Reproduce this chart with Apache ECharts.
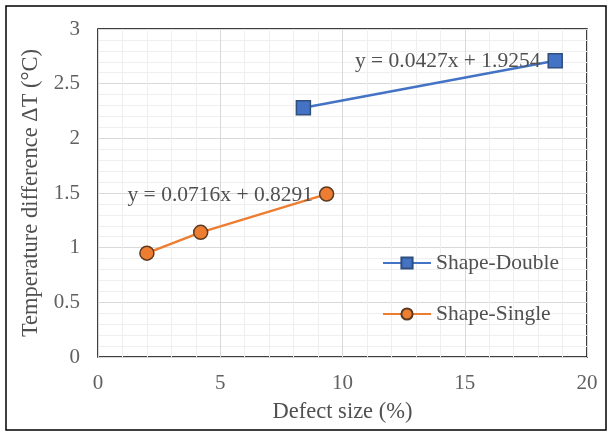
<!DOCTYPE html>
<html>
<head>
<meta charset="utf-8">
<script src="https://cdn.jsdelivr.net/npm/echarts@6/dist/echarts.min.js"></script>
<style>
  html, body { margin: 0; padding: 0; background: #fff; }
  #chart { width: 612px; height: 437px; }
</style>
</head>
<body>
<div id="chart"></div>
<script>
var doubleData = [[8.4, 2.28], [18.7, 2.71]];
var singleData = [[2.0, 0.95], [4.2, 1.14], [9.35, 1.49]];
var doubleEq = 'y = 0.0427x + 1.9254';
var singleEq = 'y = 0.0716x + 0.8291';
var doubleEqAt = [14.3, 2.70];
var singleEqAt = [5.0, 1.48];

var font = '"Liberation Serif", "DejaVu Serif", serif';
var chart = echarts.init(document.getElementById('chart'));
chart.setOption({
    animation: false,
    backgroundColor: '#fff',
    textStyle: { fontFamily: font },
    graphic: [{
        type: 'rect',
        shape: { x: 6, y: 6, width: 600, height: 424 },
        style: { fill: 'none', stroke: '#000', lineWidth: 1.5 }
    }],
    grid: {
        left: 98, right: 25, top: 29, bottom: 80,
        show: true, borderColor: '#000', borderWidth: 1.5
    },
    legend: {
        orient: 'vertical',
        left: 377, top: 247,
        itemWidth: 48, itemHeight: 14, itemGap: 29,
        textStyle: { fontFamily: font, fontSize: 21.5, color: '#505050' },
        data: ['Shape-Double', 'Shape-Single']
    },
    xAxis: {
        type: 'value', min: 0, max: 20, interval: 5,
        name: 'Defect size (%)', nameLocation: 'middle', nameGap: 44,
        nameTextStyle: { fontFamily: font, fontSize: 22.5, color: '#505050' },
        axisLine: { show: false }, axisTick: { show: false },
        axisLabel: { fontFamily: font, fontSize: 21, color: '#606060', margin: 16 },
        splitLine: { lineStyle: { color: '#d9d9d9', width: 1 } },
        minorTick: { show: false, splitNumber: 5 },
        minorSplitLine: { show: true, lineStyle: { color: '#efefef', width: 1 } }
    },
    yAxis: {
        type: 'value', min: 0, max: 3, interval: 0.5,
        name: 'Temperature difference ΔT (°C)', nameLocation: 'middle', nameGap: 50,
        nameTextStyle: { fontFamily: font, fontSize: 22.5, color: '#505050' },
        axisLine: { show: false }, axisTick: { show: false },
        axisLabel: { fontFamily: font, fontSize: 21, color: '#606060', margin: 18 },
        splitLine: { lineStyle: { color: '#d9d9d9', width: 1 } },
        minorTick: { show: false, splitNumber: 5 },
        minorSplitLine: { show: true, lineStyle: { color: '#efefef', width: 1 } }
    },
    series: [
        {
            name: 'Shape-Double', type: 'line', data: doubleData,
            symbol: 'rect', symbolSize: 14,
            lineStyle: { color: '#4472C4', width: 2.5 },
            itemStyle: { color: '#4472C4', borderColor: '#2F4F7F', borderWidth: 1.5 },
            markPoint: {
                symbol: 'circle', symbolSize: 1,
                itemStyle: { color: 'rgba(0,0,0,0)' },
                label: { show: true, position: 'inside', formatter: doubleEq, fontFamily: font, fontSize: 21.5, color: '#505050' },
                data: [{ coord: doubleEqAt }]
            },
            z: 3
        },
        {
            name: 'Shape-Single', type: 'line', data: singleData,
            symbol: 'circle', symbolSize: 14,
            lineStyle: { color: '#ED7D31', width: 2.5 },
            itemStyle: { color: '#ED7D31', borderColor: '#5a3a22', borderWidth: 1.5 },
            markPoint: {
                symbol: 'circle', symbolSize: 1,
                itemStyle: { color: 'rgba(0,0,0,0)' },
                label: { show: true, position: 'inside', formatter: singleEq, fontFamily: font, fontSize: 21.5, color: '#505050' },
                data: [{ coord: singleEqAt }]
            },
            z: 3
        }
    ]
});
</script>
</body>
</html>
